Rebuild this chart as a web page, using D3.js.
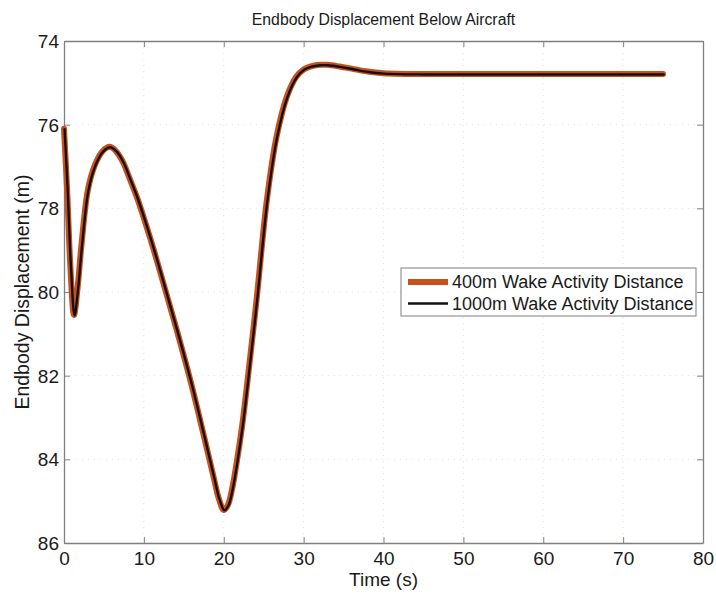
<!DOCTYPE html>
<html>
<head>
<meta charset="utf-8">
<script src="https://cdn.jsdelivr.net/npm/d3@7"></script>
<style>
  html, body { margin: 0; padding: 0; background: #fff; }
  svg { display: block; font-family: "Liberation Sans", Arial, sans-serif; }
</style>
</head>
<body>
<svg id="chart" width="716" height="597"></svg>
<script>
// Time samples (s)
const timeS = [0, 0.4, 0.8, 1.25, 1.7, 2.2, 3.0, 3.9, 4.8, 5.7, 6.5, 7.4, 8.2, 9.1, 10.8,
  12.4, 14.1, 15.8, 17.4, 18.7, 19.4, 20.0, 20.5, 21.0, 21.6, 22.3, 22.9, 24.1,
  25.4, 26.6, 27.9, 29.1, 30.0, 30.8, 32.0, 33.0, 34.5, 36.0, 38.0, 40.0, 45.0, 50.0,
  60.0, 70.0, 75.0];

// Endbody displacement below aircraft (m), 400 m wake activity distance
const disp400 = [76.1, 77.6, 79.4, 80.55, 79.9, 78.85, 77.55, 76.95, 76.64, 76.53, 76.63,
  76.9, 77.28, 77.72, 78.72, 79.76, 80.9, 82.1, 83.35, 84.4, 84.95, 85.21, 85.1, 84.75,
  84.1, 83.2, 82.25, 80.2, 77.8, 76.3, 75.33, 74.85, 74.68, 74.61, 74.57, 74.57,
  74.61, 74.66, 74.73, 74.77, 74.79, 74.79, 74.79, 74.79, 74.79];

// Endbody displacement below aircraft (m), 1000 m wake activity distance
const disp1000 = [76.1, 77.6, 79.4, 80.55, 79.9, 78.85, 77.55, 76.95, 76.64, 76.53, 76.63,
  76.9, 77.28, 77.72, 78.72, 79.76, 80.9, 82.1, 83.35, 84.4, 84.95, 85.21, 85.1, 84.75,
  84.1, 83.2, 82.25, 80.2, 77.8, 76.3, 75.33, 74.85, 74.68, 74.61, 74.57, 74.57,
  74.61, 74.66, 74.73, 74.77, 74.79, 74.79, 74.79, 74.79, 74.79];

const xTicks = [0, 10, 20, 30, 40, 50, 60, 70, 80];
const yTicks = [74, 76, 78, 80, 82, 84, 86];

const seriesNames = ["400m Wake Activity Distance", "1000m Wake Activity Distance"];

const W = 716, H = 597;
const margin = { left: 64, top: 41, right: 13, bottom: 54 };
const iw = W - margin.left - margin.right;
const ih = H - margin.top - margin.bottom;

const svg = d3.select("#chart");
const g = svg.append("g").attr("transform", `translate(${margin.left},${margin.top})`);

const x = d3.scaleLinear().domain([0, 80]).range([0, iw]);
const y = d3.scaleLinear().domain([74, 86]).range([0, ih]);

const axisColor = "#7f7f86";
const textColor = "#1a1a1a";
const font = "'Liberation Sans', Arial, sans-serif";

// faint dotted grid
const grid = g.append("g").attr("stroke", "#e2e2e2").attr("stroke-width", 1)
  .attr("stroke-dasharray", "1,5");
xTicks.slice(1, -1).forEach(t => grid.append("line")
  .attr("x1", x(t)).attr("x2", x(t)).attr("y1", 0).attr("y2", ih));
yTicks.slice(1, -1).forEach(t => grid.append("line")
  .attr("x1", 0).attr("x2", iw).attr("y1", y(t)).attr("y2", y(t)));

// axes with inward ticks on all four sides
const tickLen = 6;
const xAxis = g.append("g").attr("transform", `translate(0,${ih})`)
  .call(d3.axisBottom(x).tickValues(xTicks).tickSizeInner(-tickLen).tickSizeOuter(0).tickPadding(9));
const yAxis = g.append("g")
  .call(d3.axisLeft(y).tickValues(yTicks).tickSizeInner(-tickLen).tickSizeOuter(0).tickPadding(5));
const xTop = g.append("g")
  .call(d3.axisTop(x).tickValues(xTicks).tickSizeInner(-tickLen).tickSizeOuter(0).tickFormat(""));
const yRight = g.append("g").attr("transform", `translate(${iw},0)`)
  .call(d3.axisRight(y).tickValues(yTicks).tickSizeInner(-tickLen).tickSizeOuter(0).tickFormat(""));

[xAxis, yAxis, xTop, yRight].forEach(a => {
  a.select(".domain").attr("stroke", axisColor).attr("stroke-width", 1.3);
  a.selectAll(".tick line").attr("stroke", axisColor).attr("stroke-width", 1);
  a.selectAll(".tick text").attr("fill", textColor).style("font-size", "19px")
    .style("font-family", font);
});
yAxis.selectAll(".tick text").attr("dy", "0.35em");

// displacement curves
const line = d3.line().x((d, i) => x(timeS[i])).y(d => y(d)).curve(d3.curveCatmullRom.alpha(0.5));

g.append("path").datum(disp400)
  .attr("d", line).attr("fill", "none").attr("stroke", "#c8501c")
  .attr("stroke-width", 6).attr("stroke-linejoin", "round").attr("stroke-linecap", "round");
g.append("path").datum(disp1000)
  .attr("d", line).attr("fill", "none").attr("stroke", "#111")
  .attr("stroke-width", 2.4).attr("stroke-linejoin", "round").attr("stroke-linecap", "round")
  .attr("transform", "translate(0.6,0.4)");

// legend
const lg = g.append("g").attr("transform", `translate(${401 - margin.left},${268 - margin.top})`);
lg.append("rect").attr("width", 295).attr("height", 48)
  .attr("fill", "#fff").attr("stroke", axisColor).attr("stroke-width", 1);
const legStyles = [{ c: "#c8501c", w: 6 }, { c: "#111", w: 2.4 }];
seriesNames.forEach((name, i) => {
  const yy = 14 + i * 21.5;
  lg.append("line").attr("x1", 7).attr("x2", 47).attr("y1", yy).attr("y2", yy)
    .attr("stroke", legStyles[i].c).attr("stroke-width", legStyles[i].w);
  lg.append("text").attr("x", 51).attr("y", yy).attr("dy", "0.35em")
    .style("font-size", "18px").attr("fill", textColor).text(name);
});

// titles
svg.append("text").attr("x", margin.left + iw / 2).attr("y", 25).attr("text-anchor", "middle")
  .style("font-size", "15.8px").attr("fill", textColor).text("Endbody Displacement Below Aircraft");
svg.append("text").attr("x", margin.left + iw / 2).attr("y", 586).attr("text-anchor", "middle")
  .style("font-size", "19px").attr("fill", textColor).text("Time (s)");
svg.append("text").attr("transform", `translate(29,${margin.top + ih / 2}) rotate(-90)`)
  .attr("text-anchor", "middle").style("font-size", "19.5px").attr("fill", textColor)
  .text("Endbody Displacement (m)");
</script>
</body>
</html>
